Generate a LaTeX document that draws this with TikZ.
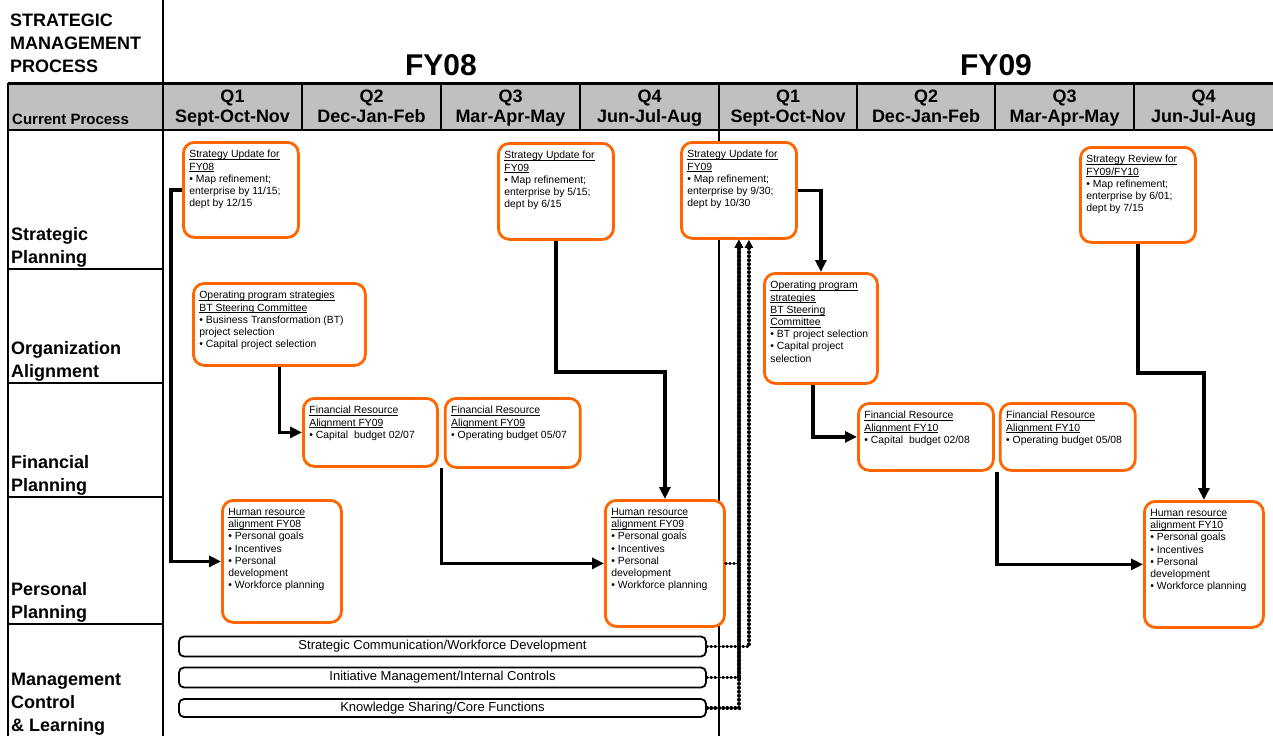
\documentclass[tikz,border=0pt]{standalone}
\usepackage{fontspec}
\setmainfont{Liberation Sans}
\usepackage{tikz}
\usetikzlibrary{arrows.meta,positioning,calc}

\definecolor{planorange}{RGB}{255,102,0}
\definecolor{headgray}{RGB}{192,192,192}
\newcommand{\boxtxt}[3]{\parbox[c][#2][t]{#1}{\raggedright\vspace*{3.5pt}#3}}
\newcommand{\ul}[1]{\underline{\raisebox{0pt}[\height][0pt]{#1}}}

\begin{document}
\begin{tikzpicture}[
    x=1pt, y=-1pt,
    plan/.style={draw=planorange, line width=2.8pt, rounded corners=11pt, fill=white, anchor=north west, inner xsep=6pt, inner ysep=4.5pt, font=\fontsize{10.4}{12.2}\selectfont},
    band/.style={draw, line width=1.8pt, rounded corners=5pt, fill=white, minimum width=527pt, minimum height=20pt, inner sep=0pt, font=\fontsize{13}{15}\selectfont},
    rowlab/.style={anchor=south west, inner sep=0pt, align=left, font=\fontsize{18}{23}\selectfont\bfseries},
    qlab/.style={anchor=base, inner sep=0pt, font=\fontsize{18}{22}\selectfont\bfseries},
    flow/.style={line width=3.6pt, -{Triangle[length=12pt,width=11pt]}},
    link/.style={line width=3.2pt, line cap=round, dash pattern=on 0.6pt off 3.4pt, -{Triangle[length=8pt,width=8pt]}},
    rule/.style={line width=2pt}
]
\useasboundingbox (0,0) rectangle (1273,736);

\fill[headgray] (8,83) rectangle (1273,130);
\draw[line width=3pt] (8,83) -- (1273,83);
\draw[line width=2.5pt] (8,130) -- (1273,130);
\draw[rule] (8,83) -- (8,736);
\draw[rule] (163,0) -- (163,736);
\draw[line width=2.5pt] (719,83) -- (719,736);
\foreach \x in {302,441,580,857,995,1134}
    \draw[rule] (\x,83) -- (\x,130);
\foreach \y in {269,383,497,624}
    \draw[rule] (8,\y) -- (163,\y);

\node[rowlab] (title) at (10,72.5) {STRATEGIC\\MANAGEMENT\\PROCESS};
\node[anchor=base, inner sep=0pt, font=\fontsize{30}{36}\selectfont\bfseries] (fy08) at (441,75.5) {FY08};
\node[anchor=base, inner sep=0pt, font=\fontsize{30}{36}\selectfont\bfseries] (fy09) at (996,75.5) {FY09};
\node[anchor=base west, inner sep=0pt, font=\fontsize{15}{18}\selectfont\bfseries] (cur) at (12,124) {Current Process};
\foreach \cx/\qq/\mm [count=\i] in {232.5/Q1/Sept-Oct-Nov, 371.5/Q2/Dec-Jan-Feb, 510.5/Q3/Mar-Apr-May, 649.5/Q4/Jun-Jul-Aug, 788/Q1/Sept-Oct-Nov, 926/Q2/Dec-Jan-Feb, 1064.5/Q3/Mar-Apr-May, 1203.5/Q4/Jun-Jul-Aug} {
    \node[qlab] (q\i) at (\cx,102) {\qq};
    \node[qlab] (m\i) at (\cx,122) {\mm};
}

\node[rowlab] (rsp) at (11,268) {Strategic\\Planning};
\node[rowlab] (roa) at (11,382) {Organization\\Alignment};
\node[rowlab] (rfp) at (11,496) {Financial\\Planning};
\node[rowlab] (rpp) at (11,623) {Personal\\Planning};
\node[rowlab] (rmc) at (11,736) {Management\\Control\\\& Learning};

\node[plan] (su08) at (182,141) {\boxtxt{103pt}{86pt}{\ul{Strategy Update for}\\\ul{FY08}\\• Map refinement;\\enterprise by 11/15;\\dept by 12/15}};
\node[plan] (op08) at (192,282) {\boxtxt{160pt}{73pt}{\ul{Operating program strategies}\\\ul{BT Steering Committee}\\• Business Transformation (BT)\\project selection\\• Capital project selection}};
\node[plan] (fr09a) at (302,397) {\boxtxt{122pt}{59pt}{\ul{Financial Resource}\\\ul{Alignment FY09}\\• Capital\ \ budget 02/07}};
\node[plan, right=5pt of fr09a.north east, anchor=north west] (fr09b) {\boxtxt{123pt}{60pt}{\ul{Financial Resource}\\\ul{Alignment FY09}\\• Operating budget 05/07}};
\node[plan] (hr08) at (221,499) {\boxtxt{107pt}{113pt}{\ul{Human resource}\\\ul{alignment FY08}\\• Personal goals\\• Incentives\\• Personal\\development\\• Workforce planning}};
\node[plan] (su09a) at (497,142) {\boxtxt{103pt}{87pt}{\ul{Strategy Update for}\\\ul{FY09}\\• Map refinement;\\enterprise by 5/15;\\dept by 6/15}};
\node[plan] (hr09) at (604,499) {\boxtxt{107pt}{117pt}{\ul{Human resource}\\\ul{alignment FY09}\\• Personal goals\\• Incentives\\• Personal\\development\\• Workforce planning}};
\node[plan] (su09b) at (680,141) {\boxtxt{103pt}{87pt}{\ul{Strategy Update for}\\\ul{FY09}\\• Map refinement;\\enterprise by 9/30;\\dept by 10/30}};
\node[plan] (op09) at (763,272) {\boxtxt{101pt}{101pt}{\ul{Operating program}\\\ul{strategies}\\\ul{BT Steering}\\\ul{Committee}\\• BT project selection\\• Capital project\\selection}};
\node[plan] (fr10a) at (857,402) {\boxtxt{123pt}{58pt}{\ul{Financial Resource}\\\ul{Alignment FY10}\\• Capital\ \ budget 02/08}};
\node[plan, right=4pt of fr10a.north east, anchor=north west] (fr10b) {\boxtxt{123pt}{58pt}{\ul{Financial Resource}\\\ul{Alignment FY10}\\• Operating budget 05/08}};
\node[plan] (sr) at (1079,146) {\boxtxt{103pt}{86pt}{\ul{Strategy Review for}\\\ul{FY09/FY10}\\• Map refinement;\\enterprise by 6/01;\\dept by 7/15}};
\node[plan] (hr10) at (1143,500) {\boxtxt{107pt}{117pt}{\ul{Human resource}\\\ul{alignment FY10}\\• Personal goals\\• Incentives\\• Personal\\development\\• Workforce planning}};

\node[band] (comm) at (442.5,646.5) {Strategic Communication/Workforce Development};
\node[band] (ctrl) at (442.5,677.5) {Initiative Management/Internal Controls};
\node[band, minimum height=18pt] (know) at (442.5,708) {Knowledge Sharing/Core Functions};

\draw[flow] (su08.west) -- ++(-11,0) |- (hr08.west);
\draw[flow] (op08.south) |- (fr09a.west);
\draw[flow] ($(fr09a.south east)!0.5!(fr09b.south west)$) |- (hr09.west);
\draw[flow] (su09a.south) -- ++(0,131) -| (hr09.north);
\draw[flow] (su09b.east) -| (op09.north);
\draw[flow] ([xshift=-8pt]op09.south) |- (fr10a.west);
\draw[flow] ($(fr10a.south east)!0.5!(fr10b.south west)$) |- (hr10.west);
\draw[flow] (sr.south) -- ++(0,129) -| (hr10.north);

\draw[link] (hr09.east) -| (su09b.south);
\draw[link] (ctrl.east) -| (su09b.south);
\draw[link] (know.east) -| (su09b.south);
\draw[link] (comm.east) -| ([xshift=10pt]su09b.south);
\end{tikzpicture}
\end{document}
